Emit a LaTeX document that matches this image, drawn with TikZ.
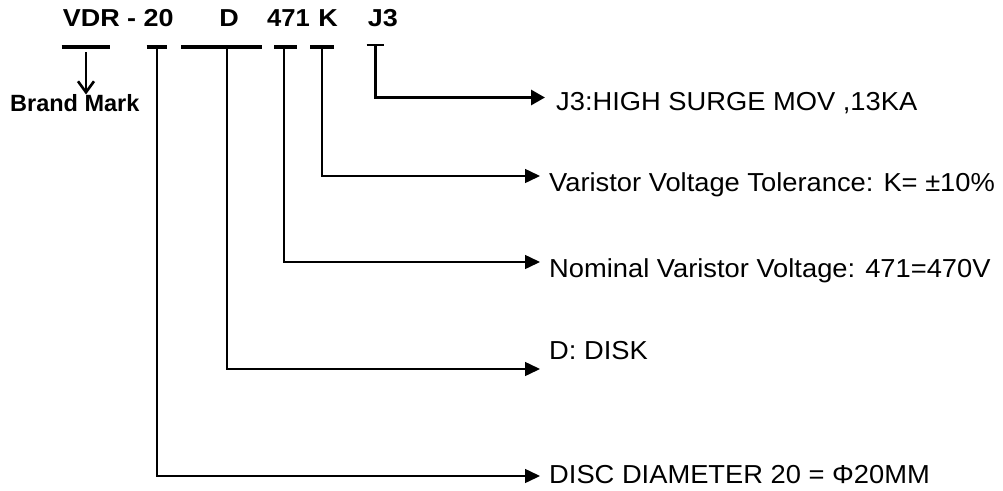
\documentclass[tikz,border=0pt]{standalone}
\usepackage{fontspec}
\setmainfont{Liberation Sans}
\usetikzlibrary{arrows.meta}
\begin{document}
\begin{tikzpicture}[x=1pt,y=-1pt,
  title/.style={font=\fontsize{24.5}{28}\selectfont\bfseries, inner sep=0pt, anchor=base, xscale=1.1},
  lab/.style={font=\fontsize{26}{30}\selectfont, inner sep=0pt, anchor=base west, xscale=1.05},
  brand/.style={font=\fontsize{23.5}{28}\selectfont\bfseries, inner sep=0pt, anchor=base west},
  bar/.style={line width=3.6pt},
  lead/.style={line width=1.5pt, -{Triangle[length=15pt,width=14pt]}},
  jlead/.style={line width=3pt, -{Triangle[length=14pt,width=15pt]}},
  brandarrow/.style={line width=2.6pt, -{Straight Barb[length=11pt,width=16pt]}}]
\path[fill=white,use as bounding box] (0,0) rectangle (1003,490);

% title tokens
\node[title] (tVDR) at (118.3,26.7) {VDR - 20};
\node[title] (tD)   at (229.2,26.7) {D};
\node[title,xscale=0.95] (t471) at (288.5,26.7) {471};
\node[title] (tK)   at (328,26.7) {K};
\node[title] (tJ3)  at (382.8,26.7) {J3};

% bars under the tokens
\coordinate (bBa) at (61.7,47);  \coordinate (bBb) at (110,47);
\coordinate (b20a) at (146.7,47); \coordinate (b20b) at (166.7,47);
\coordinate (bDa) at (181,47);   \coordinate (bDb) at (261.7,47);
\coordinate (b471a) at (274,47); \coordinate (b471b) at (296.7,47);
\coordinate (bKa) at (310,47);   \coordinate (bKb) at (334,47);
\coordinate (bJa) at (366.7,45); \coordinate (bJb) at (384,45);
\draw[bar] (bBa) -- (bBb);
\draw[bar] (b20a) -- (b20b);
\draw[bar] (bDa) -- (bDb);
\draw[bar] (b471a) -- (b471b);
\draw[bar] (bKa) -- (bKb);
\draw[line width=2.6pt] (bJa) -- (bJb);

% stems
\coordinate (sB) at (86,52);
\coordinate (s20) at (157,47);
\coordinate (sD) at (227,47);
\coordinate (s471) at (284,47);
\coordinate (sK) at (322,47);
\coordinate (sJ) at (375,45);

% arrow tips
\coordinate (e20) at (540,476);
\coordinate (eD) at (540,369);
\coordinate (e471) at (540,262);
\coordinate (eK) at (540,176);
\coordinate (eJ) at (545,97.5);

% labels
\node[brand] (lB) at (10,111.7) {Brand Mark};
\node[lab] (lJ) at (556,110.5) {J3:HIGH SURGE MOV ,13KA};
\node[lab] (lK) at (549,191.7) {Varistor Voltage Tolerance: K= ±10\%};
\node[lab] (l471) at (549,277) {Nominal Varistor Voltage: 471=470V};
\node[lab] (lD) at (549,359) {D: DISK};
\node[lab] (l20) at (549,483.3) {DISC DIAMETER 20 = Φ20MM};

% connectors
\draw[brandarrow] (sB) -- (sB |- lB.north);
\draw[lead] (s20) |- (e20);
\draw[lead] (sD) |- (eD);
\draw[lead] (s471) |- (e471);
\draw[lead] (sK) |- (eK);
\draw[jlead] (sJ) |- (eJ);
\end{tikzpicture}
\end{document}
